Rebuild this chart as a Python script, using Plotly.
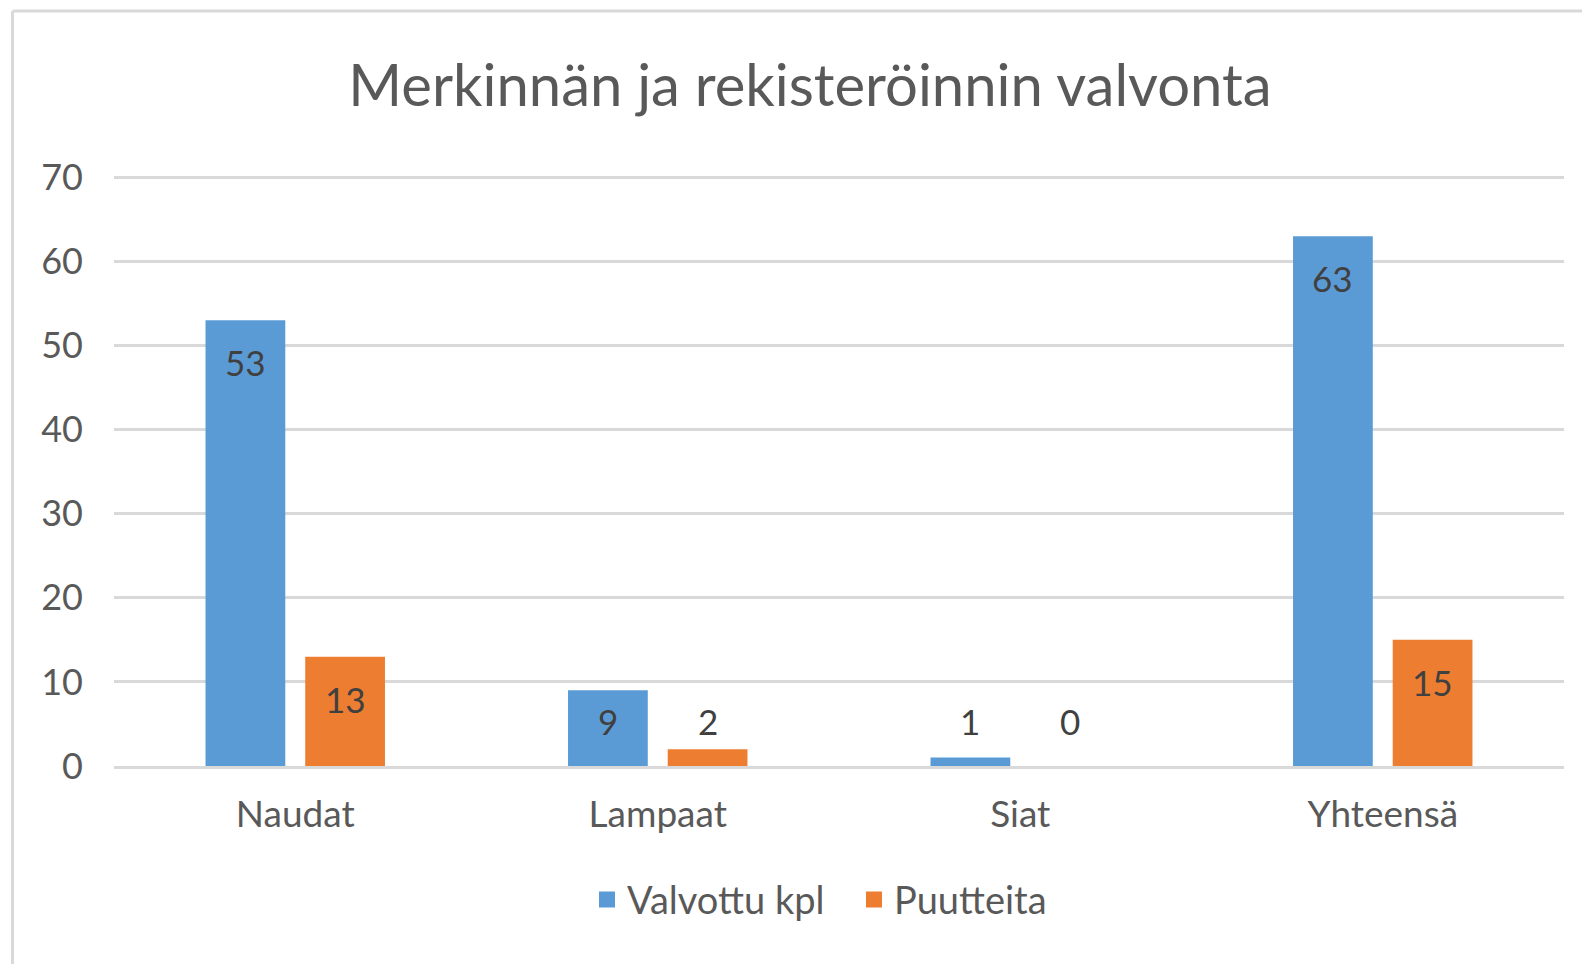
import plotly.graph_objects as go

categories = ["Naudat", "Lampaat", "Siat", "Yhteensä"]
valvottu = [53, 9, 1, 63]
puutteita = [13, 2, 0, 15]
series_names = ["Valvottu kpl", "Puutteita"]
y_ticks = [0, 10, 20, 30, 40, 50, 60, 70]

BLUE = "#5B9BD5"
ORANGE = "#ED7D31"
GRID = "#D9D9D9"
TXT = "#595959"
LBL = "#404040"
FONT = "Lato"

W, H = 1590, 964
OFF = 8  # page body margin offset
Y_MAX = 71
# screen-pixel targets: y=0 at 766, y=70 at 177
S_L, S_R, S_B = 114, 1564, 766
S_T = S_B - (S_B - 177) * Y_MAX / 70
L = S_L - OFF
T = S_T - OFF
R = W - (S_R - OFF)
B = H - (S_B - OFF)
pw, ph = W - L - R, H - T - B


def px_x(p):
    return (p - OFF - L) / pw


def px_y(p):
    return (H - B - (p - OFF)) / ph


fig = go.Figure()
fig.add_trace(go.Bar(x=categories, y=valvottu, name=series_names[0],
                     marker=dict(color=BLUE, line_width=0), showlegend=False))
fig.add_trace(go.Bar(x=categories, y=puutteita, name=series_names[1],
                     marker=dict(color=ORANGE, line_width=0), showlegend=False))
for nm, col in zip(series_names, [BLUE, ORANGE]):
    fig.add_trace(go.Scatter(x=[None], y=[None], mode="markers", name=nm,
                             marker=dict(symbol="square", size=20, color=col)))

annotations = []
for vals, shift in [(valvottu, -50), (puutteita, 50)]:
    for c, v in zip(categories, vals):
        annotations.append(dict(x=c, y=max(v, 10.3), xref="x", yref="y", text=str(v),
                                showarrow=False, xshift=shift, yshift=-42,
                                font=dict(family=FONT, size=35, color=LBL)))

shapes = [
    dict(type="line", xref="paper", yref="paper", x0=px_x(12.5), x1=px_x(W + 20),
         y0=px_y(10.5), y1=px_y(10.5), line=dict(color=GRID, width=3)),
    dict(type="line", xref="paper", yref="paper", x0=px_x(12.5), x1=px_x(12.5),
         y0=px_y(10.5), y1=px_y(H + 20), line=dict(color=GRID, width=3)),
]

fig.update_layout(
    width=W, height=H,
    margin=dict(l=L, r=R, t=T, b=B, autoexpand=False),
    paper_bgcolor="white", plot_bgcolor="white",
    barmode="group", bargap=0.45, bargroupgap=0.2,
    title=dict(text="Merkinnän ja rekisteröinnin valvonta", x=(810 - OFF) / W, xanchor="center",
               y=1 - (86 - OFF) / H, yanchor="middle", yref="container",
               font=dict(family=FONT, size=58, color=TXT)),
    font=dict(family=FONT, color=TXT),
    xaxis=dict(showgrid=False, showline=True, linecolor=GRID, linewidth=3,
               tickfont=dict(family=FONT, size=37, color=TXT), ticklabelstandoff=14,
               ticks=""),
    yaxis=dict(range=[0, Y_MAX], tickvals=y_ticks, showgrid=True, gridcolor=GRID, gridwidth=3,
               zeroline=False, showline=False, ticks="",
               tickfont=dict(family=FONT, size=36, color=TXT), ticklabelstandoff=30),
    legend=dict(orientation="h", x=px_x(854), xanchor="center", y=px_y(900), yanchor="middle",
                font=dict(family=FONT, size=38, color=TXT), itemwidth=30, traceorder="normal",
                entrywidth=222),
    annotations=annotations,
    shapes=shapes,
)

fig.write_html("out.html")
